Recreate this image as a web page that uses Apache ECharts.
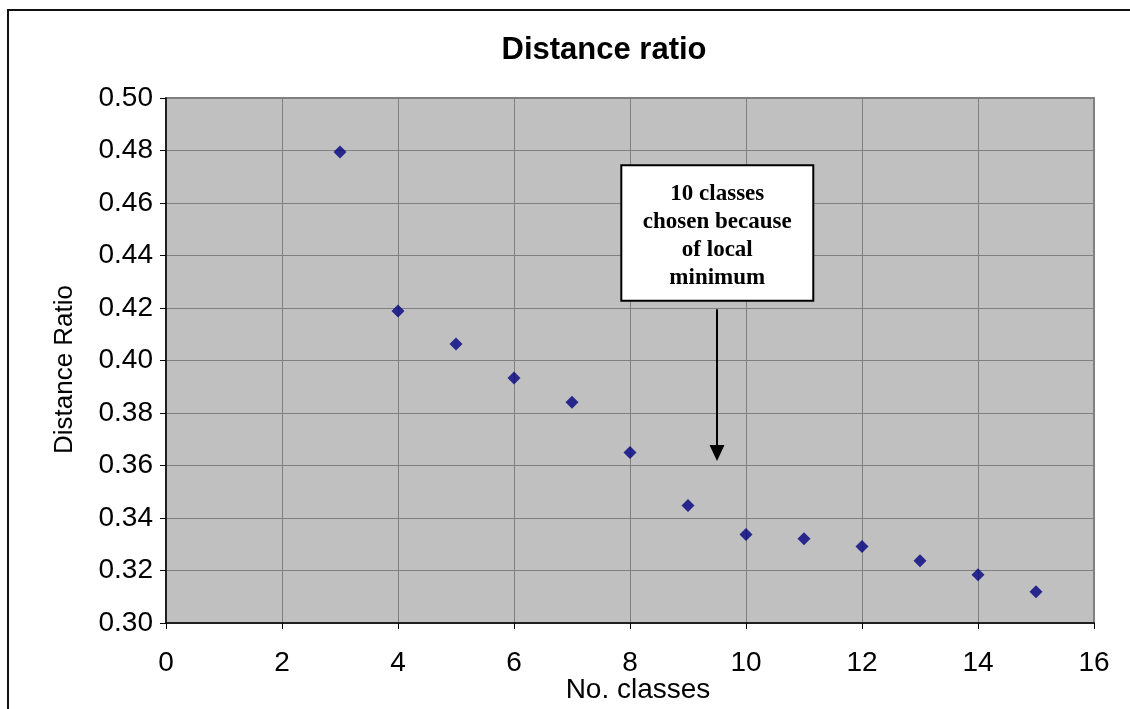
<!DOCTYPE html>
<html>
<head>
<meta charset="utf-8">
<script src="https://cdn.jsdelivr.net/npm/echarts@6/dist/echarts.min.js"></script>
<style>
html,body{margin:0;padding:0;background:#fff;}
#main{width:1130px;height:709px;}
</style>
</head>
<body>
<div id="main"></div>
<script>
// ---- data ----
var numClasses = [3, 4, 5, 6, 7, 8, 9, 10, 11, 12, 13, 14, 15];
var distanceRatio = [0.4794, 0.4189, 0.4063, 0.3933, 0.3841, 0.3650, 0.3448, 0.3337, 0.3321, 0.3291, 0.3237, 0.3184, 0.3119];
var titleText = 'Distance ratio';
var xAxisName = 'No. classes';
var yAxisName = 'Distance Ratio';
var annotationLines = ['10 classes', 'chosen because', 'of local', 'minimum'];
// annotation anchor in data space
var arrowX = 9.5, arrowFromY = 0.4195, arrowToY = 0.3648;
var boxX0 = 7.85, boxX1 = 11.16, boxY0 = 0.4744, boxY1 = 0.4228;

var points = numClasses.map(function (c, i) { return [c, distanceRatio[i]]; });

var chart = echarts.init(document.getElementById('main'));
var FONT = '"Liberation Sans", Arial, sans-serif';

chart.setOption({
  backgroundColor: '#ffffff',
  animation: false,
  title: {
    text: titleText,
    left: 604,
    textAlign: 'center',
    top: 35,
    padding: 0,
    textStyle: { fontFamily: FONT, fontSize: 31, fontWeight: 'bold', color: '#000' }
  },
  grid: {
    left: 166, top: 98, right: 36, bottom: 86,
    outerBoundsMode: 'none', containLabel: false,
    show: true, backgroundColor: '#c0c0c0', borderColor: '#808080', borderWidth: 2
  },
  xAxis: {
    type: 'value', min: 0, max: 16, interval: 2,
    name: xAxisName, nameLocation: 'middle', nameGap: 53, nameMoveOverlap: false,
    nameTextStyle: { fontFamily: FONT, fontSize: 28, color: '#000', padding: [0, 0, 0, 16] },
    axisLine: { show: true, onZero: false, lineStyle: { color: '#000', width: 1.5 } },
    axisTick: { show: true, inside: false, length: 6, lineStyle: { color: '#000' } },
    axisLabel: { fontFamily: FONT, fontSize: 28, color: '#000', margin: 26 },
    splitLine: { show: true, lineStyle: { color: '#808080', width: 1 } }
  },
  yAxis: {
    type: 'value', min: 0.30, max: 0.50, interval: 0.02,
    name: yAxisName, nameLocation: 'middle', nameGap: 88, nameMoveOverlap: false,
    nameTextStyle: { fontFamily: FONT, fontSize: 26, color: '#000', padding: [0, 18, 0, 0] },
    axisLine: { show: true, onZero: false, lineStyle: { color: '#000', width: 1.5 } },
    axisTick: { show: true, inside: false, length: 6, lineStyle: { color: '#000' } },
    axisLabel: {
      fontFamily: FONT, fontSize: 28, color: '#000', margin: 13,
      formatter: function (v) { return v.toFixed(2); }
    },
    splitLine: { show: true, lineStyle: { color: '#808080', width: 1 } }
  },
  series: [{
    type: 'scatter',
    data: points,
    symbol: 'diamond',
    symbolSize: 13,
    itemStyle: { color: '#000080' },
    z: 5,
    markLine: {
      silent: true,
      symbol: ['none', 'triangle'],
      symbolSize: [15, 16],
      label: { show: false },
      lineStyle: { color: '#000', width: 2, type: 'solid' },
      data: [[{ coord: [arrowX, arrowFromY] }, { coord: [arrowX, arrowToY] }]]
    }
  }]
});

var p0 = chart.convertToPixel({ gridIndex: 0 }, [boxX0, boxY0]);
var p1 = chart.convertToPixel({ gridIndex: 0 }, [boxX1, boxY1]);
var bw = p1[0] - p0[0], bh = p1[1] - p0[1];

chart.setOption({
  graphic: [
    {
      type: 'rect', silent: true, z: 100,
      shape: { x: 8, y: 10, width: 1200, height: 800 },
      style: { fill: 'none', stroke: '#111', lineWidth: 2 }
    },
    {
      type: 'rect', silent: true, z: 100,
      shape: { x: p0[0], y: p0[1], width: bw, height: bh },
      style: { fill: '#ffffff', stroke: '#000', lineWidth: 2 }
    },
    {
      type: 'text', silent: true, z: 101,
      x: p0[0] + bw / 2, y: p0[1] + bh / 2 + 3,
      style: {
        text: annotationLines.join('\n'),
        fontFamily: '"Liberation Serif", "Times New Roman", serif',
        fontWeight: 'bold', fontSize: 23, lineHeight: 28,
        fill: '#000', align: 'center', verticalAlign: 'middle'
      }
    }
  ]
});
</script>
</body>
</html>
